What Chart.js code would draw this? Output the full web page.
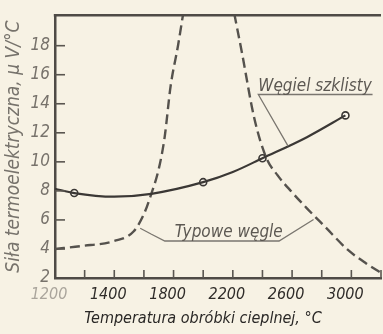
<!DOCTYPE html>
<html>
<head>
<meta charset="utf-8">
<script src="https://cdn.jsdelivr.net/npm/chart.js@4.4.0/dist/chart.umd.min.js"></script>
<style>
  html, body { margin: 0; padding: 0; background: #f7f2e4; overflow: hidden; }
  #wrap { position: relative; width: 388px; height: 334px; }
</style>
</head>
<body>
<div id="wrap"><canvas id="myChart" width="388" height="334"></canvas></div>
<script>
// Węgiel szklisty - krzywa ciągła
var szklistyTemp = [1000, 1130, 1400, 1650, 2000, 2200, 2400, 2700, 2960];
var szklistyValue = [8.15, 7.85, 7.6, 7.8, 8.6, 9.3, 10.25, 11.7, 13.2];

// punkty pomiarowe (kółka)
var pomiarTemp = [1130, 2000, 2400, 2960];
var pomiarValue = [7.85, 8.6, 10.25, 13.2];

// Typowe węgle - dwie gałęzie przerywane
var typoweLewaTemp = [1000, 1180, 1400, 1530, 1600, 1650, 1700, 1740, 1780, 1830, 1865];
var typoweLewaValue = [4.0, 4.2, 4.55, 5.2, 6.4, 7.8, 9.5, 11.7, 15.2, 18.0, 20.2];
var typowePrawaTemp = [2210, 2260, 2345, 2425, 2500, 2600, 2700, 2825, 2975, 3100, 3200];
var typowePrawaValue = [20.2, 17.6, 13.0, 10.3, 9.1, 7.9, 6.8, 5.5, 3.95, 3.0, 2.35];

// osie (w oryginale początek osi podpisany 1200)
var xTickValues = [1000, 1400, 1800, 2200, 2600, 3000];
var xTickLabels = ['1200', '1400', '1800', '2200', '2600', '3000'];
var yTickValues = [2, 4, 6, 8, 10, 12, 14, 16, 18];
var xTitle = 'Temperatura obróbki cieplnej, °C';

function toPoints(xs, ys) {
  return xs.map(function(x, i) { return { x: x, y: ys[i] }; });
}

var FONT = "'Liberation Sans Narrow', 'DejaVu Sans Condensed', 'Roboto Condensed', sans-serif";

// opisy krzywych (współrzędne w jednostkach osi)
var opisy = [
  { text: 'Węgiel szklisty', at: [2372, 14.9], line: [[2573, 11.08], [2372, 14.64], [3143, 14.64]] },
  { text: 'Typowe węgle', at: [1808, 4.82], line: [[1575, 5.43], [1648, 5.03], [1741, 4.55], [2512, 4.55], [2745, 6.03]] }
];

var ramka = {
  id: 'ramka',
  afterDatasetsDraw: function(chart) {
    var ctx = chart.ctx, a = chart.chartArea;
    var sx = chart.scales.x, sy = chart.scales.y;
    ctx.save();
    // górna krawędź ramki
    ctx.strokeStyle = '#4f4b46';
    ctx.lineWidth = 2.5;
    ctx.beginPath();
    ctx.moveTo(a.left - 1.2, a.top);
    ctx.lineTo(a.right, a.top);
    ctx.stroke();

    // kreski podziałki do środka
    ctx.lineWidth = 1.6;
    ctx.strokeStyle = '#5a5650';
    sx.ticks.forEach(function(t) {
      if (t.value <= sx.min) return;
      var px = sx.getPixelForValue(t.value);
      ctx.beginPath();
      ctx.moveTo(px, a.bottom);
      ctx.lineTo(px, a.bottom - 8);
      ctx.stroke();
    });
    sy.ticks.forEach(function(t) {
      if (t.value <= sy.min) return;
      var py = sy.getPixelForValue(t.value);
      ctx.beginPath();
      ctx.moveTo(a.left, py);
      ctx.lineTo(a.left + 10, py);
      ctx.stroke();
    });

    // opisy z odnośnikami
    ctx.lineWidth = 1.3;
    ctx.strokeStyle = '#7a766f';
    ctx.fillStyle = '#5c5852';
    ctx.font = 'italic 17px ' + FONT;
    ctx.textBaseline = 'alphabetic';
    opisy.forEach(function(o) {
      ctx.beginPath();
      o.line.forEach(function(p, i) {
        var px = sx.getPixelForValue(p[0]), py = sy.getPixelForValue(p[1]);
        if (i === 0) ctx.moveTo(px, py); else ctx.lineTo(px, py);
      });
      ctx.stroke();
      ctx.fillText(o.text, sx.getPixelForValue(o.at[0]), sy.getPixelForValue(o.at[1]));
    });

    // tytuł osi x (w oryginale przesunięty w lewo względem środka)
    ctx.fillStyle = '#2a2826';
    ctx.font = 'italic 16px ' + FONT;
    ctx.textAlign = 'center';
    ctx.textBaseline = 'middle';
    ctx.fillText(xTitle, a.left + 148, 319);
    ctx.restore();
  }
};

var ctx = document.getElementById('myChart').getContext('2d');
var chart = new Chart(ctx, {
  type: 'line',
  data: {
    datasets: [{
      label: 'Węgiel szklisty',
      data: toPoints(szklistyTemp, szklistyValue),
      borderColor: '#3b3835',
      borderWidth: 2.2,
      pointRadius: 0,
      cubicInterpolationMode: 'monotone',
      fill: false
    }, {
      label: 'pomiary',
      data: toPoints(pomiarTemp, pomiarValue),
      showLine: false,
      pointRadius: 3.5,
      pointBorderWidth: 1.6,
      pointBorderColor: '#3b3835',
      pointBackgroundColor: '#faf6ec'
    }, {
      label: 'Typowe węgle',
      data: toPoints(typoweLewaTemp, typoweLewaValue),
      borderColor: '#55524d',
      borderWidth: 2.4,
      borderDash: [10, 5],
      pointRadius: 0,
      cubicInterpolationMode: 'monotone',
      fill: false
    }, {
      label: 'Typowe węgle 2',
      data: toPoints(typowePrawaTemp, typowePrawaValue),
      borderColor: '#55524d',
      borderWidth: 2.4,
      borderDash: [10, 5],
      pointRadius: 0,
      cubicInterpolationMode: 'monotone',
      fill: false
    }]
  },
  options: {
    responsive: false,
    animation: false,
    devicePixelRatio: 1,
    layout: { padding: { top: 9, right: 2, left: 0, bottom: 0 } },
    plugins: {
      legend: { display: false },
      tooltip: { enabled: false }
    },
    scales: {
      x: {
        type: 'linear',
        min: 1000,
        max: 3200,
        afterBuildTicks: function(scale) {
          var t = [];
          for (var v = 1000; v <= 3200; v += 200) t.push({ value: v });
          scale.ticks = t;
        },
        afterFit: function(scale) { scale.height = 56; },
        grid: { display: false, drawTicks: false },
        border: { display: true, color: '#4f4b46', width: 2.5 },
        ticks: {
          autoSkip: false,
          maxRotation: 0,
          padding: 7,
          labelOffset: -6,
          font: { family: FONT, size: 16, style: 'italic' },
          color: function(c) { return c.tick && c.tick.value === 1000 ? '#aaa59c' : '#2f2c29'; },
          callback: function(value) {
            var i = xTickValues.indexOf(value);
            return i >= 0 ? xTickLabels[i] : '';
          }
        },
        title: { display: false }
      },
      y: {
        min: 2,
        max: 20.1,
        afterBuildTicks: function(scale) {
          scale.ticks = yTickValues.map(function(v) { return { value: v }; });
        },
        afterFit: function(scale) { scale.width = 55; },
        grid: { display: false, drawTicks: false },
        border: { display: true, color: '#4f4b46', width: 2.5 },
        ticks: {
          padding: 5,
          font: { family: FONT, size: 17, style: 'italic' },
          color: '#77726b'
        },
        title: {
          display: true,
          text: 'Siła termoelektryczna, μ V/°C',
          color: '#77736c',
          font: { family: FONT, size: 19, style: 'italic' },
          padding: { top: 3, bottom: 0 }
        }
      }
    }
  },
  plugins: [ramka]
});
</script>
</body>
</html>
